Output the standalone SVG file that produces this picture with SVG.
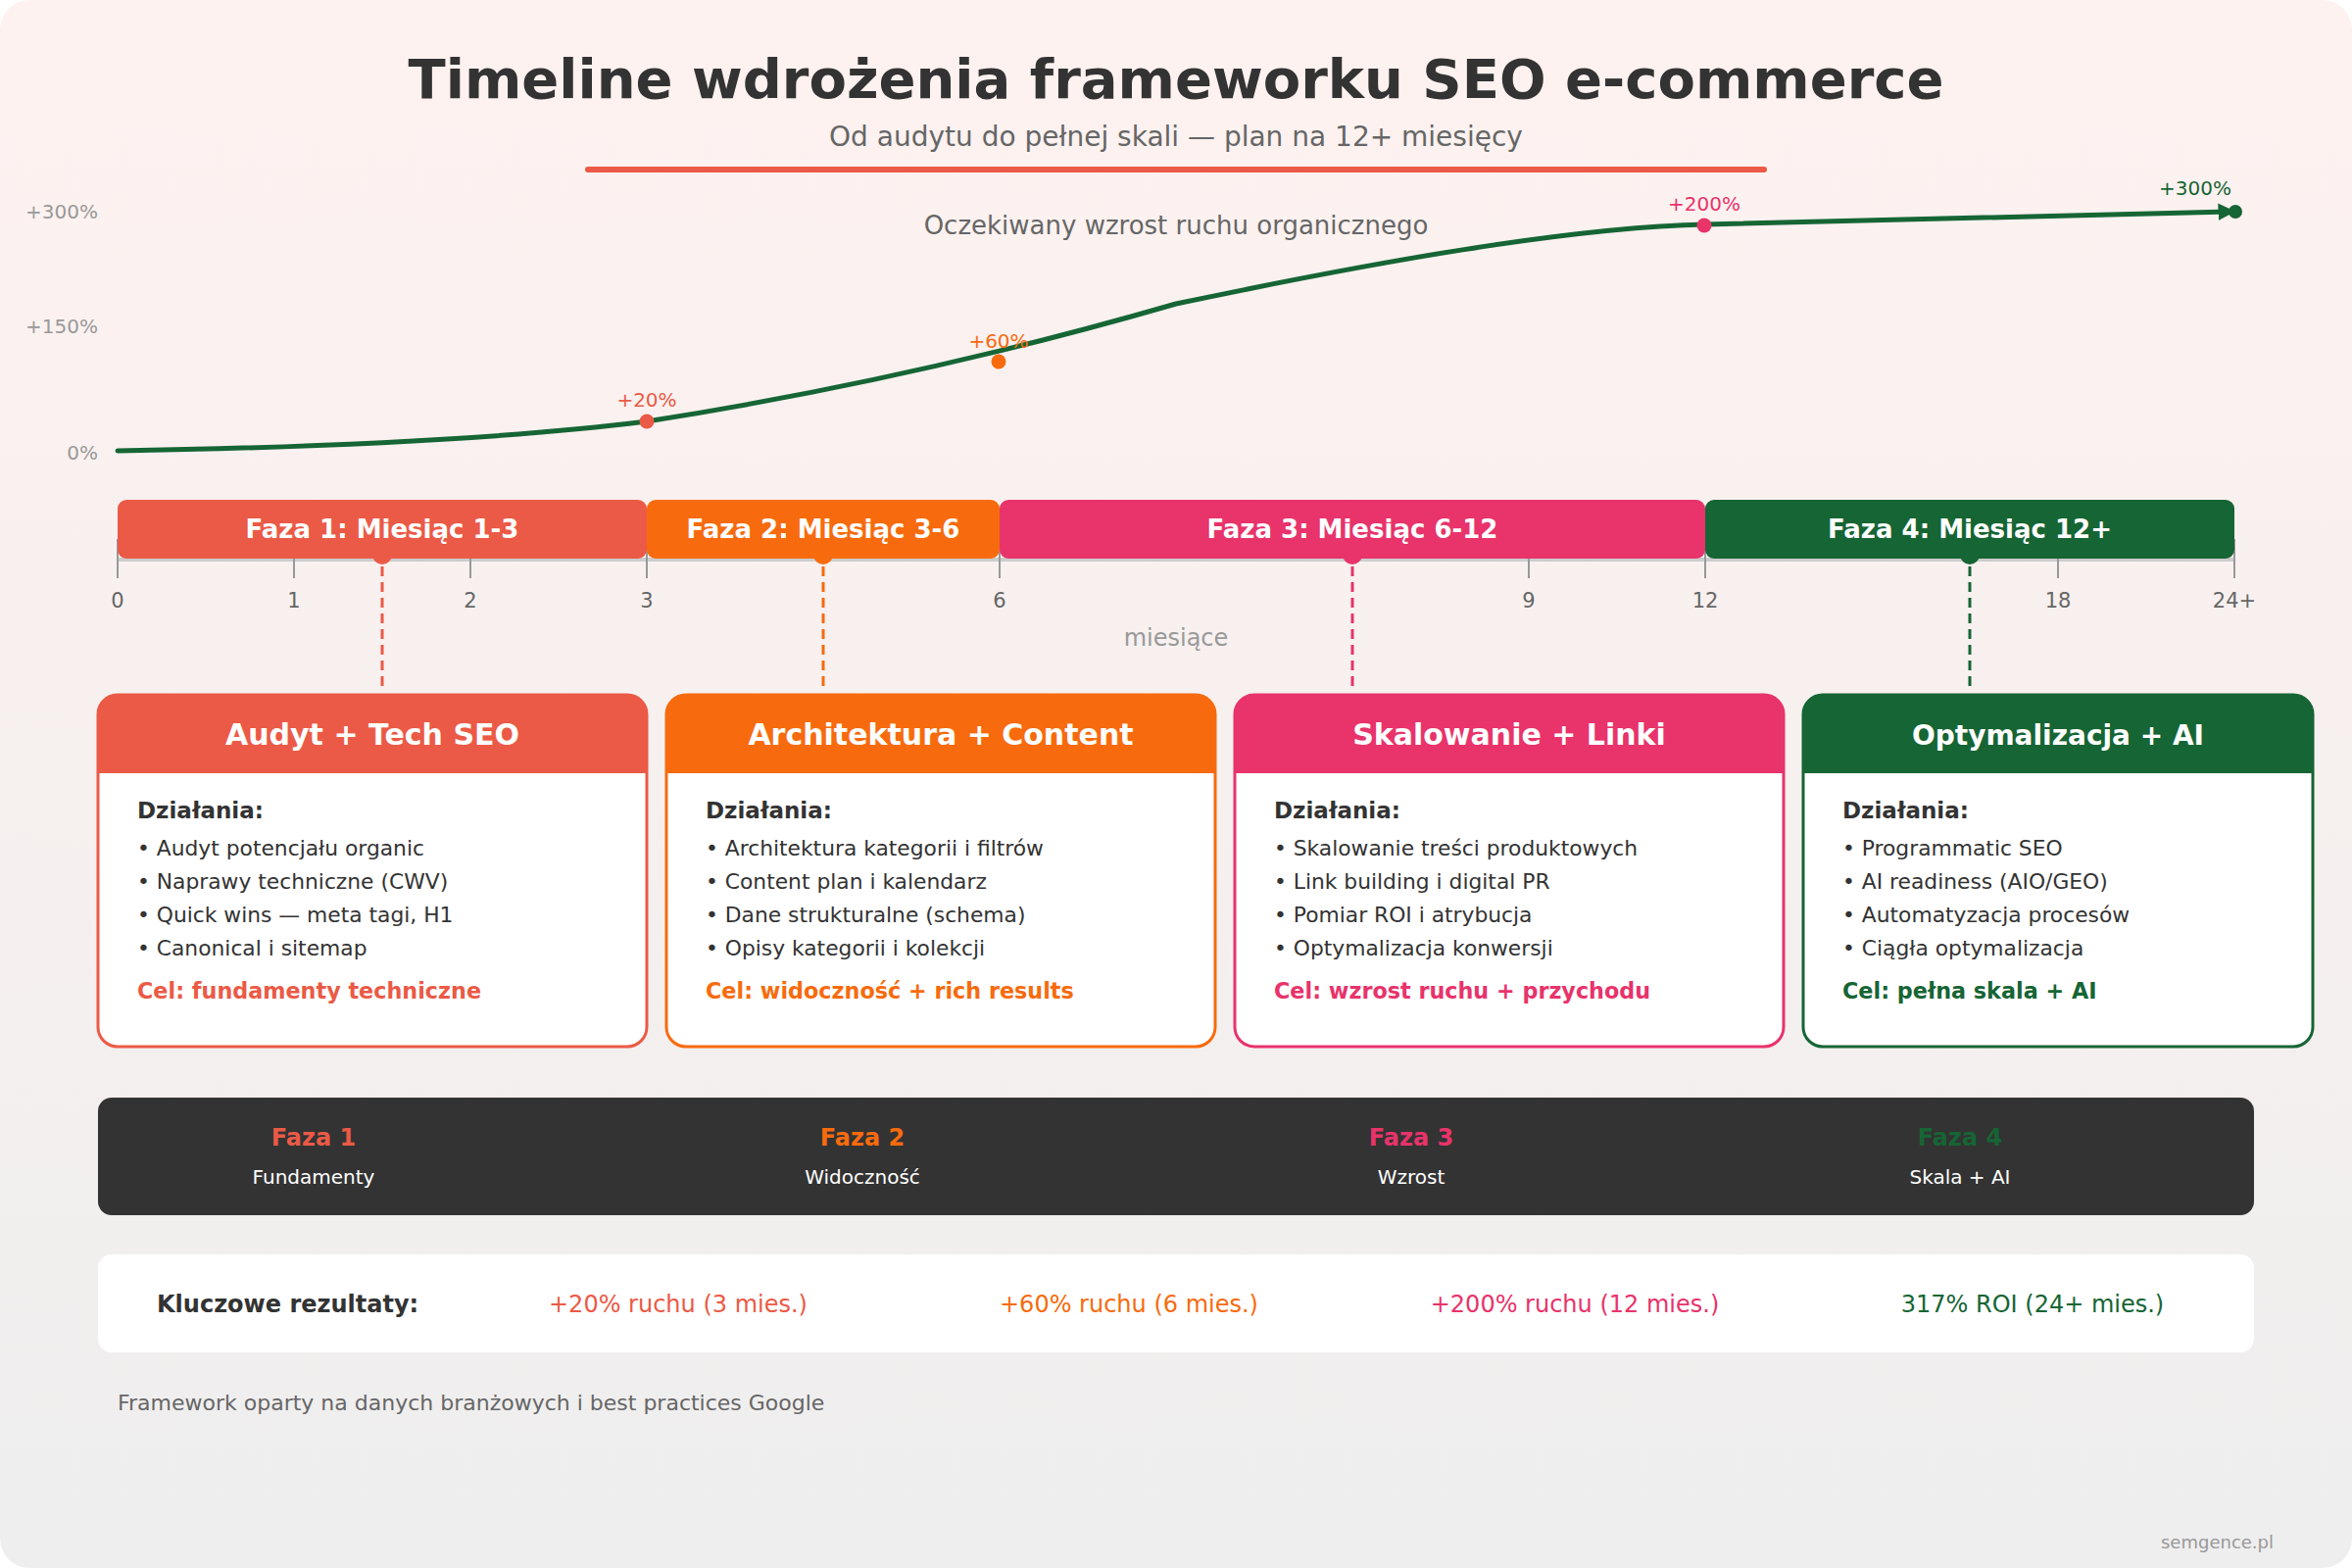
<svg xmlns="http://www.w3.org/2000/svg" width="2400" height="1600" viewBox="0 0 2400 1600">
<defs>
<linearGradient id="bg" x1="0" y1="0" x2="0" y2="1">
<stop offset="0" stop-color="#FEF2F0"/>
<stop offset="1" stop-color="#EEEEEE"/>
</linearGradient>
<marker id="arr" viewBox="0 0 10 10" refX="6" refY="5" markerWidth="3.5" markerHeight="3.5" orient="auto">
<path d="M0 0 L10 5 L0 10 z" fill="#166534"/>
</marker>
<style>
text{font-family:"DejaVu Sans","Liberation Sans",sans-serif}
.b{font-weight:bold}
.ylab{font-size:20px;fill:#999;text-anchor:end}
.tick{stroke:#999;stroke-width:2}
.tlab{font-size:21px;fill:#666;text-anchor:middle}
.bar{font-size:26px;font-weight:bold;fill:#fff;text-anchor:middle}
.hdr{font-size:30px;font-weight:bold;fill:#fff;text-anchor:middle}
.dz{font-size:23px;font-weight:bold;fill:#333}
.it{font-size:21.8px;fill:#333}
.cel{font-size:22.3px;font-weight:bold}
.dash{stroke-width:3;stroke-dasharray:10 6;fill:none}
.plab{font-size:20px;text-anchor:middle}
.c1{fill:#EB5A46}.c2{fill:#F76B0E}.c3{fill:#E8336B}.c4{fill:#166534}
.s1{stroke:#EB5A46}.s2{stroke:#F76B0E}.s3{stroke:#E8336B}.s4{stroke:#166534}
.card{fill:#fff;stroke-width:3}
.res{font-size:24px;text-anchor:middle}
</style>
</defs>
<rect x="0" y="0" width="2400" height="1600" rx="30" fill="url(#bg)"/>

<g id="header">
<text x="1200" y="100" text-anchor="middle" class="b" font-size="56" fill="#333">Timeline wdrożenia frameworku SEO e-commerce</text>
<text x="1200" y="149" text-anchor="middle" font-size="28" fill="#666">Od audytu do pełnej skali — plan na 12+ miesięcy</text>
<line x1="600" y1="173" x2="1800" y2="173" stroke="#EB5A46" stroke-width="6" stroke-linecap="round"/>
</g>

<g id="chart">
<text x="100" y="223" class="ylab">+300%</text>
<text x="100" y="340" class="ylab">+150%</text>
<text x="100" y="469" class="ylab">0%</text>
<text x="1200" y="239" text-anchor="middle" font-size="26" fill="#666">Oczekiwany wzrost ruchu organicznego</text>
<path d="M120 460 C300 457 500 450 660 430 C820 405 1000 368 1200 310 C1400 268 1600 232 1740 229 L2274 216" fill="none" stroke="#166534" stroke-width="5" stroke-linecap="round" marker-end="url(#arr)"/>
<circle cx="2281" cy="216" r="7" class="c4"/>
<circle cx="660" cy="430" r="7.5" class="c1"/>
<text x="660" y="415" class="plab c1">+20%</text>
<circle cx="1019" cy="369" r="7.5" class="c2"/>
<text x="1019" y="355" class="plab c2">+60%</text>
<circle cx="1739" cy="230" r="7.5" class="c3"/>
<text x="1739" y="215" class="plab c3">+200%</text>
<text x="2240" y="199" class="plab c4">+300%</text>
</g>

<g id="axis">
<line x1="120" y1="571" x2="2280" y2="571" stroke="#cccccc" stroke-width="4"/>
<line class="tick" x1="120" y1="550" x2="120" y2="590"/>
<line class="tick" x1="300" y1="550" x2="300" y2="590"/>
<line class="tick" x1="480" y1="550" x2="480" y2="590"/>
<line class="tick" x1="660" y1="550" x2="660" y2="590"/>
<line class="tick" x1="1020" y1="550" x2="1020" y2="590"/>
<line class="tick" x1="1560" y1="550" x2="1560" y2="590"/>
<line class="tick" x1="1740" y1="550" x2="1740" y2="590"/>
<line class="tick" x1="2100" y1="550" x2="2100" y2="590"/>
<line class="tick" x1="2280" y1="550" x2="2280" y2="590"/>
<text x="120" y="620" class="tlab">0</text>
<text x="300" y="620" class="tlab">1</text>
<text x="480" y="620" class="tlab">2</text>
<text x="660" y="620" class="tlab">3</text>
<text x="1020" y="620" class="tlab">6</text>
<text x="1560" y="620" class="tlab">9</text>
<text x="1740" y="620" class="tlab">12</text>
<text x="2100" y="620" class="tlab">18</text>
<text x="2280" y="620" class="tlab">24+</text>
<text x="1200" y="659" text-anchor="middle" font-size="24" fill="#999">miesiące</text>
</g>

<g id="bar1">
<rect x="120" y="510" width="540" height="60" rx="9" class="c1"/>
<text x="390" y="549" class="bar">Faza 1: Miesiąc 1-3</text>
<circle cx="390" cy="566" r="10" class="c1"/>
</g>
<g id="bar2">
<rect x="660" y="510" width="360" height="60" rx="9" class="c2"/>
<text x="840" y="549" class="bar">Faza 2: Miesiąc 3-6</text>
<circle cx="840" cy="566" r="10" class="c2"/>
</g>
<g id="bar3">
<rect x="1020" y="510" width="720" height="60" rx="9" class="c3"/>
<text x="1380" y="549" class="bar">Faza 3: Miesiąc 6-12</text>
<circle cx="1380" cy="566" r="10" class="c3"/>
</g>
<g id="bar4">
<rect x="1740" y="510" width="540" height="60" rx="9" class="c4"/>
<text x="2010" y="549" class="bar">Faza 4: Miesiąc 12+</text>
<circle cx="2010" cy="566" r="10" class="c4"/>
</g>

<g id="connectors">
<line x1="390" y1="578" x2="390" y2="700" class="dash s1"/>
<line x1="840" y1="578" x2="840" y2="700" class="dash s2"/>
<line x1="1380" y1="578" x2="1380" y2="700" class="dash s3"/>
<line x1="2010" y1="578" x2="2010" y2="700" class="dash s4"/>
</g>

<g id="card1">
<rect x="100" y="709" width="560" height="359" rx="20" class="card s1"/>
<path d="M100 789 V729 A20 20 0 0 1 120 709 H640 A20 20 0 0 1 660 729 V789 Z" class="c1"/>
<text x="380" y="760" class="hdr">Audyt + Tech SEO</text>
<text x="140" y="835" class="dz">Działania:</text>
<text x="140" y="873" class="it">• Audyt potencjału organic</text>
<text x="140" y="907" class="it">• Naprawy techniczne (CWV)</text>
<text x="140" y="941" class="it">• Quick wins — meta tagi, H1</text>
<text x="140" y="975" class="it">• Canonical i sitemap</text>
<text x="140" y="1019" class="cel c1">Cel: fundamenty techniczne</text>
</g>
<g id="card2">
<rect x="680" y="709" width="560" height="359" rx="20" class="card s2"/>
<path d="M680 789 V729 A20 20 0 0 1 700 709 H1220 A20 20 0 0 1 1240 729 V789 Z" class="c2"/>
<text x="960" y="760" class="hdr">Architektura + Content</text>
<text x="720" y="835" class="dz">Działania:</text>
<text x="720" y="873" class="it">• Architektura kategorii i filtrów</text>
<text x="720" y="907" class="it">• Content plan i kalendarz</text>
<text x="720" y="941" class="it">• Dane strukturalne (schema)</text>
<text x="720" y="975" class="it">• Opisy kategorii i kolekcji</text>
<text x="720" y="1019" class="cel c2">Cel: widoczność + rich results</text>
</g>
<g id="card3">
<rect x="1260" y="709" width="560" height="359" rx="20" class="card s3"/>
<path d="M1260 789 V729 A20 20 0 0 1 1280 709 H1800 A20 20 0 0 1 1820 729 V789 Z" class="c3"/>
<text x="1540" y="760" class="hdr">Skalowanie + Linki</text>
<text x="1300" y="835" class="dz">Działania:</text>
<text x="1300" y="873" class="it">• Skalowanie treści produktowych</text>
<text x="1300" y="907" class="it">• Link building i digital PR</text>
<text x="1300" y="941" class="it">• Pomiar ROI i atrybucja</text>
<text x="1300" y="975" class="it">• Optymalizacja konwersji</text>
<text x="1300" y="1019" class="cel c3">Cel: wzrost ruchu + przychodu</text>
</g>
<g id="card4">
<rect x="1840" y="709" width="520" height="359" rx="20" class="card s4"/>
<path d="M1840 789 V729 A20 20 0 0 1 1860 709 H2340 A20 20 0 0 1 2360 729 V789 Z" class="c4"/>
<text x="2100" y="760" class="hdr" font-size="28" style="font-size:28px">Optymalizacja + AI</text>
<text x="1880" y="835" class="dz">Działania:</text>
<text x="1880" y="873" class="it">• Programmatic SEO</text>
<text x="1880" y="907" class="it">• AI readiness (AIO/GEO)</text>
<text x="1880" y="941" class="it">• Automatyzacja procesów</text>
<text x="1880" y="975" class="it">• Ciągła optymalizacja</text>
<text x="1880" y="1019" class="cel c4">Cel: pełna skala + AI</text>
</g>

<g id="summary">
<rect x="100" y="1120" width="2200" height="120" rx="14" fill="#333"/>
<text x="320" y="1169" text-anchor="middle" class="b c1" font-size="24">Faza 1</text>
<text x="320" y="1208" text-anchor="middle" font-size="20" fill="#fff">Fundamenty</text>
<text x="880" y="1169" text-anchor="middle" class="b c2" font-size="24">Faza 2</text>
<text x="880" y="1208" text-anchor="middle" font-size="20" fill="#fff">Widoczność</text>
<text x="1440" y="1169" text-anchor="middle" class="b c3" font-size="24">Faza 3</text>
<text x="1440" y="1208" text-anchor="middle" font-size="20" fill="#fff">Wzrost</text>
<text x="2000" y="1169" text-anchor="middle" class="b c4" font-size="24">Faza 4</text>
<text x="2000" y="1208" text-anchor="middle" font-size="20" fill="#fff">Skala + AI</text>
</g>

<g id="results">
<rect x="100" y="1280" width="2200" height="100" rx="14" fill="#fff"/>
<text x="160" y="1339" class="b" font-size="24" fill="#333">Kluczowe rezultaty:</text>
<text x="692" y="1339" class="res c1">+20% ruchu (3 mies.)</text>
<text x="1152" y="1339" class="res c2">+60% ruchu (6 mies.)</text>
<text x="1607" y="1339" class="res c3">+200% ruchu (12 mies.)</text>
<text x="2074" y="1339" class="res c4">317% ROI (24+ mies.)</text>
</g>

<g id="footer">
<text x="120" y="1439" font-size="22" fill="#666">Framework oparty na danych branżowych i best practices Google</text>
<text x="2320" y="1580" text-anchor="end" font-size="18" fill="#999">semgence.pl</text>
</g>
</svg>
